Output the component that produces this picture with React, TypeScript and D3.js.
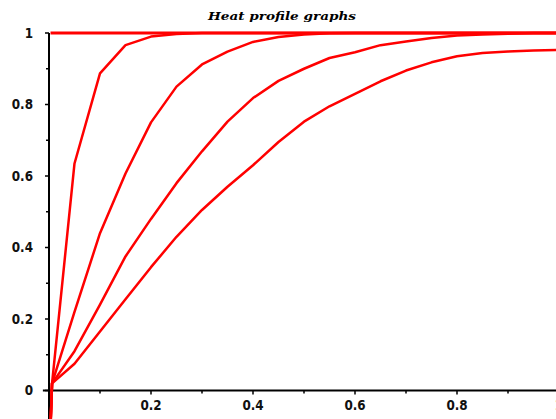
import React from 'react';
import * as d3 from 'd3';

// sample positions shared by all profiles
const xs = [0.003, 0.006, 0.05, 0.1, 0.15, 0.2, 0.25, 0.3, 0.35, 0.4, 0.45, 0.5, 0.55, 0.6, 0.65, 0.7, 0.75, 0.8, 0.85, 0.9, 0.95, 1.0];

const profile1 = [-0.1, 0.02, 0.635, 0.887, 0.966, 0.99, 0.997, 1, 1, 1, 1, 1, 1, 1, 1, 1, 1, 1, 1, 1, 1, 1];
const profile2 = [-0.1, 0.02, 0.22, 0.44, 0.607, 0.75, 0.85, 0.912, 0.948, 0.975, 0.989, 0.996, 0.999, 1, 1, 1, 1, 1, 1, 1, 1, 1];
const profile3 = [-0.1, 0.02, 0.11, 0.24, 0.375, 0.48, 0.58, 0.669, 0.752, 0.818, 0.866, 0.9, 0.93, 0.946, 0.966, 0.976, 0.986, 0.993, 0.996, 0.998, 1, 1];
const profile4 = [-0.1, 0.02, 0.075, 0.165, 0.255, 0.345, 0.43, 0.505, 0.57, 0.63, 0.695, 0.752, 0.795, 0.83, 0.865, 0.895, 0.918, 0.935, 0.944, 0.948, 0.951, 0.953];
const initial = xs.map(() => 1);

const profiles = [profile1, profile2, profile3, profile4];

const xTicks = [0.2, 0.4, 0.6, 0.8, 1];
const xMinor = [0.1, 0.3, 0.5, 0.7, 0.9];
const yTicks = [0, 0.2, 0.4, 0.6, 0.8, 1];
const yMinor = [0.1, 0.3, 0.5, 0.7, 0.9];

const title = 'Heat profile graphs';

export default function App() {
    const width = 556;
    const height = 419;

    const x = d3.scaleLinear().domain([0, 1]).range([49, 559]);
    const y = d3.scaleLinear().domain([0, 1]).range([390.5, 33]);

    const line = d3.line<number>()
                    .x((d, i) => x(xs[i]))
                    .y((d) => y(d));

    const fmt = (v: number) => (v === 0 || v === 1) ? `${v}` : d3.format('.1f')(v);

    return (
        <svg width={width} height={height} xmlns="http://www.w3.org/2000/svg"
             style={{position: 'absolute', left: 0, top: 0, background: '#fff'}}>
            <text x={282} y={20} textAnchor="middle" fontFamily="DejaVu Serif" fontStyle="italic" fontWeight="bold"
                  fontSize={11.5} textLength={148} lengthAdjust="spacingAndGlyphs">{title}</text>

            {/* axes */}
            <line x1={x(-0.012)} x2={width} y1={y(0)} y2={y(0)} stroke="#000" strokeWidth={2} />
            <line x1={x(0)} x2={x(0)} y1={y(1)} y2={height} stroke="#000" strokeWidth={2} />

            {xTicks.map((v, i) =>
                <g key={`xt_${i}`} transform={`translate(${x(v)}, ${y(0)})`}>
                    <line x1={0} x2={0} y1={0} y2={4} stroke="#000" strokeWidth={1.5} />
                    <text x={0} y={16.5} textAnchor="middle" fontFamily="DejaVu Sans" fontWeight="bold" fontSize={12}
                          transform="scale(1,1.2)" fill="#111">{fmt(v)}</text>
                </g>
            )}
            {xMinor.map((v, i) =>
                <line key={`xm_${i}`} x1={x(v)} x2={x(v)} y1={y(0)} y2={y(0) + 3} stroke="#000" strokeWidth={1.5} />
            )}
            {yTicks.map((v, i) =>
                <g key={`yt_${i}`} transform={`translate(${x(0)}, ${y(v)})`}>
                    <line x1={0} x2={-4} y1={0} y2={0} stroke="#000" strokeWidth={1.5} />
                    <text x={-16} y={3.8} textAnchor="end" fontFamily="DejaVu Sans" fontWeight="bold" fontSize={12}
                          transform="scale(1,1.2)" fill="#111">{fmt(v)}</text>
                </g>
            )}
            {yMinor.map((v, i) =>
                <line key={`ym_${i}`} x1={x(0)} x2={x(0) - 3} y1={y(v)} y2={y(v)} stroke="#000" strokeWidth={1.5} />
            )}

            {/* profiles */}
            <path d={line(initial) || ''} fill="none" stroke="#ff0000" strokeWidth={3} />
            {profiles.map((p, i) =>
                <path key={`p_${i}`} d={line(p) || ''} fill="none" stroke="#ff0000" strokeWidth={2.5} strokeLinejoin="round" />
            )}
        </svg>
    );
}
